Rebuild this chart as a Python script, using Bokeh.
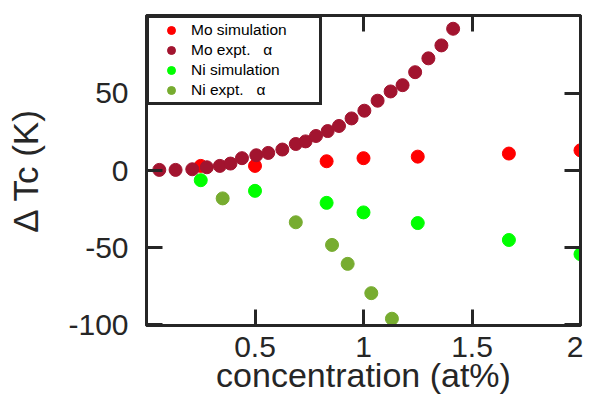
from bokeh.plotting import figure
from bokeh.models import LinearAxis, FixedTicker, Range1d
from bokeh.embed import file_html
from bokeh.resources import INLINE

# ---- data ----
mo_sim_x = [0.25, 0.5, 0.83, 1.0, 1.25, 1.67, 2.0]
mo_sim_y = [3.0, 3.0, 6.0, 8.0, 9.0, 11.0, 13.1]

mo_exp_x = [0.059, 0.134, 0.211, 0.278, 0.338, 0.387, 0.440, 0.506, 0.561, 0.626,
            0.688, 0.733, 0.781, 0.835, 0.887, 0.945, 1.004, 1.065, 1.125, 1.180,
            1.238, 1.299, 1.359, 1.413]
mo_exp_y = [0.4, 0.4, 0.8, 2.1, 3.0, 4.5, 8.0, 9.9, 11.4, 13.6,
            17.2, 18.9, 22.4, 25.6, 28.9, 33.8, 38.8, 45.3, 51.3, 55.4,
            63.8, 72.8, 81.2, 92.0]

ni_sim_x = [0.25, 0.5, 0.83, 1.0, 1.25, 1.67, 2.0]
ni_sim_y = [-6.3, -13.2, -21.0, -27.2, -34.1, -45.1, -54.3]

ni_exp_x = [0.351, 0.688, 0.855, 0.927, 1.036, 1.131]
ni_exp_y = [-18.1, -33.6, -48.3, -60.6, -79.6, -96.2]

x_ticks = [0.5, 1.0, 1.5, 2.0]
y_ticks = [-100, -50, 0, 50]
y_tick_labels = {-100: "-100", -50: "-50", 0: "0", 50: "50"}

FONT = "Liberation Sans"
INK = "#262626"

p = figure(width=583, height=396, output_backend="svg", toolbar_location=None,
           x_range=Range1d(0, 2), y_range=Range1d(-100.6, 100.6),
           min_border_left=146, min_border_top=15, min_border_right=3, min_border_bottom=0)
p.background_fill_color = "white"
p.border_fill_color = "white"
p.grid.visible = False
p.outline_line_color = INK
p.outline_line_width = 3
p.outline_line_alpha = 1.0


def style_ticks(ax):
    ax.axis_line_color = INK
    ax.axis_line_width = 3
    ax.major_tick_line_color = INK
    ax.major_tick_line_width = 3
    ax.major_tick_in = 16
    ax.major_tick_out = 0
    ax.minor_tick_line_color = None


xa = p.xaxis[0]
ya = p.yaxis[0]
xa.ticker = FixedTicker(ticks=x_ticks)
ya.ticker = FixedTicker(ticks=y_ticks)
ya.major_label_overrides = y_tick_labels
xa.axis_label = "concentration (at%)"
ya.axis_label = "Δ Tc (K)"

for ax in (xa, ya):
    style_ticks(ax)
    ax.major_label_text_font = FONT
    ax.major_label_text_font_size = "30px"
    ax.major_label_text_color = INK
    ax.axis_label_text_font = FONT
    ax.axis_label_text_font_style = "normal"
    ax.axis_label_text_color = INK

xa.axis_label_text_font_size = "34px"
ya.axis_label_text_font_size = "35px"
xa.major_label_standoff = 11
xa.axis_label_standoff = -4
ya.major_label_standoff = 18
ya.axis_label_standoff = 20

for loc, ticks in (("above", x_ticks), ("right", y_ticks)):
    ax = LinearAxis(ticker=FixedTicker(ticks=ticks))
    style_ticks(ax)
    ax.major_label_text_font_size = "2px"
    ax.major_label_text_color = None
    ax.major_label_standoff = 0
    p.add_layout(ax, loc)

S = 13
p.scatter(mo_sim_x, mo_sim_y, size=S, color="#FF0000", legend_label="Mo simulation")
p.scatter(mo_exp_x, mo_exp_y, size=S, color="#A2142F", legend_label="Mo expt.   α")
p.scatter(ni_sim_x, ni_sim_y, size=S, color="#00FF00", legend_label="Ni simulation")
p.scatter(ni_exp_x, ni_exp_y, size=S, color="#77AC30", legend_label="Ni expt.   α")

lg = p.legend[0]
lg.location = "top_left"
lg.margin = 0
lg.padding = 2
lg.spacing = 0
lg.glyph_width = 40
lg.glyph_height = 20
lg.label_height = 20
lg.label_standoff = 0
lg.label_width = 126
lg.label_text_font = FONT
lg.label_text_font_size = "15.5px"
lg.label_text_color = "black"
lg.border_line_color = INK
lg.border_line_width = 3
lg.border_line_alpha = 1.0
lg.background_fill_color = "white"
lg.background_fill_alpha = 1.0

open("out.html", "w").write(file_html(p, INLINE))
